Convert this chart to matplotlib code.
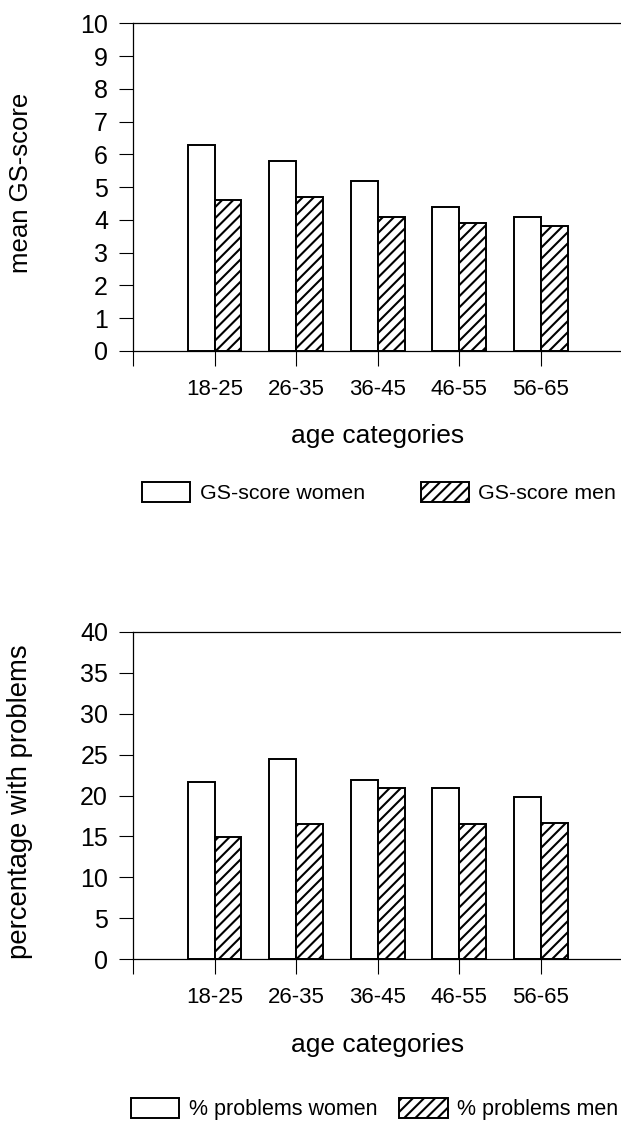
import numpy as np
import matplotlib
matplotlib.use("Agg")
import matplotlib.pyplot as plt

plt.rcParams['font.family'] = ['Liberation Sans', 'DejaVu Sans']
plt.rcParams['hatch.linewidth'] = 1.5

age_groups = ["18-25", "26-35", "36-45", "46-55", "56-65"]

gs_women = [6.3, 5.8, 5.2, 4.4, 4.1]
gs_men = [4.6, 4.7, 4.1, 3.9, 3.8]

prob_women = [21.7, 24.4, 21.9, 20.9, 19.8]
prob_men = [14.9, 16.5, 20.9, 16.5, 16.6]

x = np.arange(len(age_groups))
w = 0.33

fig = plt.figure(figsize=(6.21, 11.21), dpi=100)


def panel(rect, women, men, ymax, ystep, ylabel, ylab_size, ylab_y, labels, leg_size,
          leg_anchor, colspace):
    ax = fig.add_axes(rect)
    ax.bar(x - w / 2, women, width=w, color='white', edgecolor='black', linewidth=1.4, label=labels[0])
    ax.bar(x + w / 2, men, width=w, color='white', edgecolor='black', linewidth=1.4,
           hatch='///', label=labels[1])
    ax.set_xlim(-1, 5)
    ax.set_ylim(0, ymax)
    ax.set_yticks(np.arange(0, ymax + ystep, ystep))
    ax.set_xticks(np.arange(-1, 5))
    ax.set_xticklabels([""] + age_groups)
    ax.tick_params(axis='y', direction='out', length=10, width=0.8, pad=8, labelsize=18)
    ax.tick_params(axis='x', direction='out', length=11, width=0.8, pad=9, labelsize=16)
    ax.spines['right'].set_visible(False)
    for s in ['left', 'top', 'bottom']:
        ax.spines[s].set_linewidth(0.9)
    ax.set_ylabel(ylabel, fontsize=ylab_size)
    ax.yaxis.set_label_coords(-0.204, ylab_y)
    ax.set_xlabel("age categories", fontsize=19)
    ax.xaxis.set_label_coords(0.5, -0.26)
    ax.xaxis.label.set_va('center')
    ax.legend(loc='upper left', bbox_to_anchor=leg_anchor, bbox_transform=fig.transFigure,
              ncol=2, frameon=False, fontsize=leg_size, borderpad=0, borderaxespad=0,
              handlelength=2.25, handleheight=1.05, handletextpad=0.45,
              columnspacing=colspace)
    return ax


panel([0.2142, 0.6869, 0.788, 0.2923], gs_women, gs_men, 10, 1,
      "mean GS-score", 18.5, 0.512, ["GS-score women", "GS-score men"], 15.4,
      (0.229, 0.570), 2.6)
panel([0.2142, 0.1442, 0.788, 0.2923], prob_women, prob_men, 40, 5,
      "percentage with problems", 19.8, 0.482, ["% problems women", "% problems men"], 15.5,
      (0.211, 0.0205), 1.0)

fig.savefig("out.png", dpi=100)
